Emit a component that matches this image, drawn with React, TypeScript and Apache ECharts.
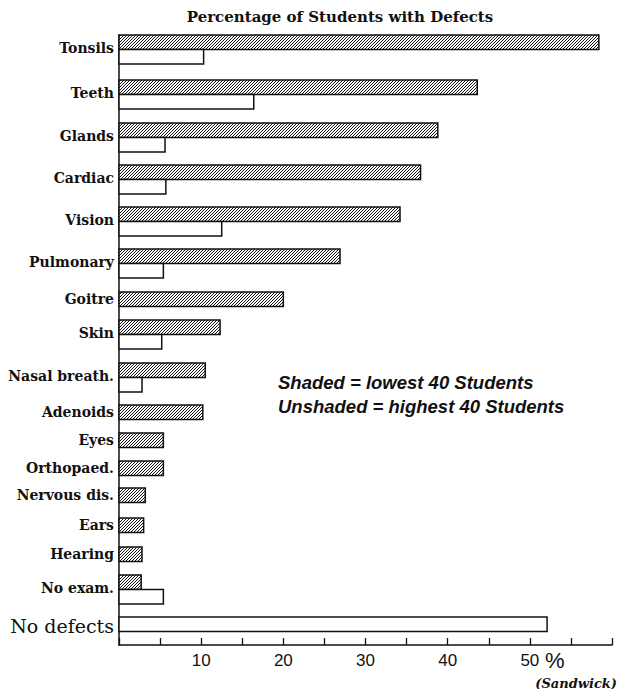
import React, { useEffect, useRef } from 'react';
import * as echarts from 'echarts';

// ---- data ----
const categories = [
  'Tonsils', 'Teeth', 'Glands', 'Cardiac', 'Vision', 'Pulmonary', 'Goitre', 'Skin',
  'Nasal breath.', 'Adenoids', 'Eyes', 'Orthopaed.', 'Nervous dis.', 'Ears', 'Hearing',
  'No exam.', 'No defects',
];
// Shaded = lowest 40 students (%)
const lowest40: (number | null)[] = [
  58.4, 43.6, 38.8, 36.7, 34.2, 26.9, 20.0, 12.3, 10.5, 10.2, 5.4, 5.4, 3.2, 3.0, 2.8, 2.7, null,
];
// Unshaded = highest 40 students (%)
const highest40: (number | null)[] = [
  10.3, 16.4, 5.6, 5.7, 12.5, 5.4, null, 5.2, 2.8, null, null, null, null, null, null, 5.4, 52.1,
];
const xTickLabels = [10, 20, 30, 40, 50];

// ---- layout (row offsets on the hidden vertical scale) ----
const rowTop = [0, 45, 88, 130, 172, 214, 257, 285, 328, 370, 398, 426, 453, 483, 512, 540, 582];
const BAR_H = 14.5;
const Y_MAX = 610;

function makeHatch(): HTMLCanvasElement {
  const c = document.createElement('canvas');
  c.width = 3;
  c.height = 3;
  const ctx = c.getContext('2d')!;
  ctx.fillStyle = '#ffffff';
  ctx.fillRect(0, 0, 3, 3);
  ctx.strokeStyle = '#111111';
  ctx.lineWidth = 1;
  ctx.beginPath();
  ctx.moveTo(-1, 4); ctx.lineTo(4, -1);
  ctx.moveTo(-2, 2); ctx.lineTo(2, -2);
  ctx.moveTo(1, 5); ctx.lineTo(5, 1);
  ctx.stroke();
  return c;
}

export default function App() {
  const ref = useRef<HTMLDivElement>(null);
  useEffect(() => {
    document.body.style.margin = '0';
    if (!ref.current) return;
    const chart = echarts.init(ref.current, undefined, { renderer: 'svg' });
    const hatch = makeHatch();
    const hatchFill: any = { image: hatch, repeat: 'repeat', imageWidth: 3, imageHeight: 3 };

    const shadedData: any[] = [];
    const unshadedData: any[] = [];
    const labelData: any[] = [];
    categories.forEach((c, i) => {
      const s = lowest40[i];
      const u = highest40[i];
      if (s != null) shadedData.push([s, rowTop[i], BAR_H]);
      if (u != null) unshadedData.push([u, rowTop[i] + (s != null ? BAR_H : 0), BAR_H]);
      const both = s != null && u != null;
      const center = rowTop[i] + (both ? BAR_H - 1.5 : BAR_H / 2) + (i === categories.length - 1 ? 2 : 0);
      labelData.push([0, center, i]);
    });

    const barRender = (fill: any) => (params: any, api: any) => {
      const v = api.value(0);
      const top = api.value(1);
      const h = api.value(2);
      const p0 = api.coord([0, top]);
      const p1 = api.coord([v, top + h]);
      return {
        type: 'rect',
        shape: { x: p0[0], y: p0[1], width: p1[0] - p0[0], height: p1[1] - p0[1] },
        style: { fill, stroke: '#111', lineWidth: 1.5 },
      };
    };

    chart.setOption({
      animation: false,
      grid: { left: 119, top: 35, width: 493, height: Y_MAX, containLabel: false },
      xAxis: {
        type: 'value',
        min: 0,
        max: 60,
        interval: 5,
        position: 'bottom',
        axisLine: { show: true, onZero: false, lineStyle: { color: '#111', width: 1.5 } },
        axisTick: { show: true, inside: true, length: 7, lineStyle: { color: '#111', width: 1.3 } },
        splitLine: { show: false },
        axisLabel: {
          margin: 7,
          color: '#111',
          fontFamily: 'Liberation Sans',
          fontSize: 17,
          formatter: (v: number) => (xTickLabels.includes(v) ? String(v) : ''),
        },
      },
      yAxis: {
        type: 'value',
        inverse: true,
        min: 0,
        max: Y_MAX,
        axisLine: { show: true, onZero: false, lineStyle: { color: '#111', width: 1.5 } },
        axisTick: { show: false },
        axisLabel: { show: false },
        splitLine: { show: false },
      },
      series: [
        { type: 'custom', name: 'Shaded', data: shadedData, renderItem: barRender(hatchFill), z: 3 },
        { type: 'custom', name: 'Unshaded', data: unshadedData, renderItem: barRender('#ffffff'), z: 3 },
        {
          type: 'custom',
          name: 'labels',
          data: labelData,
          clip: false,
          renderItem: (params: any, api: any) => {
            const idx = api.value(2);
            const p = api.coord([0, api.value(1)]);
            const last = idx === categories.length - 1;
            return {
              type: 'text',
              x: p[0] - 5,
              y: p[1],
              style: {
                text: categories[idx],
                textAlign: 'right',
                textVerticalAlign: 'middle',
                verticalAlign: 'middle',
                fontFamily: 'DejaVu Serif',
                fontSize: last ? 19 : 14,
                fontWeight: last ? 'normal' : 'bold',
                fill: '#111',
              },
            };
          },
        },
      ],
    });

    const p50 = chart.convertToPixel({ xAxisIndex: 0 }, 50) as number;
    const p60 = chart.convertToPixel({ xAxisIndex: 0 }, 60) as number;
    const legendStyle = {
      textVerticalAlign: 'middle',
      fontFamily: 'Liberation Sans',
      fontStyle: 'italic',
      fontWeight: 'bold',
      fontSize: 18.5,
      fill: '#111',
    };
    chart.setOption({
      graphic: [
        {
          type: 'text',
          x: 340,
          y: 17,
          style: {
            text: 'Percentage of Students with Defects',
            textAlign: 'center',
            textVerticalAlign: 'middle',
            fontFamily: 'DejaVu Serif',
            fontWeight: 'bold',
            fontSize: 15,
            fill: '#111',
          },
        },
        { type: 'text', x: 278, y: 382, style: { ...legendStyle, text: 'Shaded = lowest 40 Students' } },
        { type: 'text', x: 278, y: 406, style: { ...legendStyle, text: 'Unshaded = highest 40 Students' } },
        {
          type: 'text',
          x: p50 + 25,
          y: 660,
          style: {
            text: '%',
            textAlign: 'center',
            textVerticalAlign: 'middle',
            fontFamily: 'Liberation Sans',
            fontSize: 22,
            fill: '#111',
          },
        },
        {
          type: 'text',
          x: p60 + 5,
          y: 683,
          style: {
            text: '(Sandwick)',
            textAlign: 'right',
            textVerticalAlign: 'middle',
            fontFamily: 'DejaVu Serif',
            fontStyle: 'italic',
            fontWeight: 'bold',
            fontSize: 13,
            fill: '#111',
          },
        },
      ],
    });

    return () => chart.dispose();
  }, []);
  return <div ref={ref} style={{ width: 617, height: 689 }} />;
}
